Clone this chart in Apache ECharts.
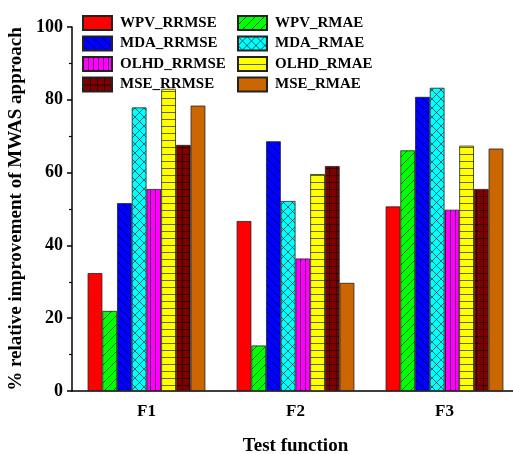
<!DOCTYPE html>
<html><head><meta charset="utf-8">
<script src="https://cdn.jsdelivr.net/npm/echarts@6/dist/echarts.min.js"></script>
<style>html,body{margin:0;padding:0;background:#fff}#c{width:513px;height:454px}</style>
</head><body><div id="c"></div>
<script>
const categories = ['F1', 'F2', 'F3'];
const seriesNames = ['WPV_RRMSE','WPV_RMAE','MDA_RRMSE','MDA_RMAE','OLHD_RRMSE','OLHD_RMAE','MSE_RRMSE','MSE_RMAE'];
const WPV_RRMSE = [32.4, 46.7, 50.7];
const WPV_RMAE = [22.0, 12.5, 66.1];
const MDA_RRMSE = [51.6, 68.6, 80.8];
const MDA_RMAE = [77.9, 52.2, 83.3];
const OLHD_RRMSE = [55.5, 36.4, 49.8];
const OLHD_RMAE = [83.0, 59.6, 67.4];
const MSE_RRMSE = [67.6, 61.8, 55.5];
const MSE_RMAE = [78.4, 29.7, 66.6];
const seriesValues = [WPV_RRMSE, WPV_RMAE, MDA_RRMSE, MDA_RMAE, OLHD_RRMSE, OLHD_RMAE, MSE_RRMSE, MSE_RMAE];
const yTicks = [0, 20, 40, 60, 80, 100];

function pat(bg, kind) {
  const sizes = { diag: 9, anti: 9, cross: 9, vert: 5, horiz: 7, grid: 7 };
  const s = sizes[kind];
  const c = document.createElement('canvas');
  c.width = s; c.height = s;
  const g = c.getContext('2d');
  g.fillStyle = bg; g.fillRect(0, 0, s, s);
  g.strokeStyle = 'rgba(0,0,0,0.7)'; g.lineWidth = 0.85;
  const ln = (a, b, cc, d) => { g.beginPath(); g.moveTo(a, b); g.lineTo(cc, d); g.stroke(); };
  if (kind === 'diag' || kind === 'cross') { ln(-1, s + 1, s + 1, -1); ln(-1, 1, 1, -1); ln(s - 1, s + 1, s + 1, s - 1); }
  if (kind === 'anti' || kind === 'cross') { ln(-1, -1, s + 1, s + 1); ln(s - 1, -1, s + 1, 1); ln(-1, s - 1, 1, s + 1); }
  if (kind === 'vert' || kind === 'grid') { ln(0.5, 0, 0.5, s); }
  if (kind === 'horiz' || kind === 'grid') { ln(0, 0.5, s, 0.5); }
  return { image: c, repeat: 'repeat' };
}
const fills = [
  '#FF0000',
  pat('#00FF00', 'diag'),
  pat('#0000FF', 'anti'),
  pat('#00FFFF', 'cross'),
  pat('#FF00FF', 'vert'),
  pat('#FFFF00', 'horiz'),
  pat('#800000', 'grid'),
  '#CC6600'
];

const font = '"Liberation Serif", "Times New Roman", serif';
const chart = echarts.init(document.getElementById('c'), null, { renderer: 'canvas' });
const legendCommon = {
  orient: 'vertical', top: 15, itemWidth: 29, itemHeight: 14, itemGap: 4.5, icon: 'rect',
  textStyle: { fontFamily: font, fontWeight: 'bold', fontSize: 15, color: '#000', padding: [0, 0, 0, 3] },
  padding: 0
};
chart.setOption({
  animation: false,
  backgroundColor: '#fff',
  grid: { left: 72, right: -6, top: 27, bottom: 63, containLabel: false, outerBoundsMode: 'none' },
  legend: [
    Object.assign({ left: 82, data: seriesNames.filter((n, i) => i % 2 === 0) }, legendCommon),
    Object.assign({ left: 237, data: seriesNames.filter((n, i) => i % 2 === 1) }, legendCommon)
  ],
  xAxis: [{
    type: 'category', data: categories, position: 'bottom',
    name: 'Test function', nameLocation: 'middle', nameGap: 46,
    nameTextStyle: { fontFamily: font, fontWeight: 'bold', fontSize: 19, color: '#000' },
    axisLine: { lineStyle: { color: '#000', width: 1.5 } },
    axisTick: { alignWithLabel: true, length: 6, lineStyle: { color: '#000', width: 1.5 } },
    axisLabel: { fontFamily: font, fontWeight: 'bold', fontSize: 17, color: '#000', margin: 12 },
    splitLine: { show: false }
  }, {
    type: 'category', data: categories, position: 'bottom', offset: 0,
    axisLine: { show: false },
    axisTick: { inside: true, length: 3, lineStyle: { color: '#000', width: 1.2 } },
    axisLabel: { show: false }, splitLine: { show: false }
  }],
  yAxis: {
    type: 'value', min: yTicks[0], max: yTicks[yTicks.length - 1], interval: 20,
    name: '% relative improvement of MWAS approach', nameLocation: 'middle', nameGap: 45,
    nameTextStyle: { fontFamily: font, fontWeight: 'bold', fontSize: 19, color: '#000' },
    axisLine: { show: true, lineStyle: { color: '#000', width: 1.5 } },
    axisTick: { show: true, length: 5, lineStyle: { color: '#000', width: 1.5 } },
    minorTick: { show: true, splitNumber: 2, length: 3, lineStyle: { color: '#000', width: 1.2 } },
    axisLabel: { fontFamily: font, fontWeight: 'bold', fontSize: 18, color: '#000', margin: 9 },
    splitLine: { show: false }
  },
  series: seriesNames.map((n, i) => ({
    name: n, type: 'bar', data: seriesValues[i], xAxisIndex: 0,
    barGap: '0%', barCategoryGap: '21%',
    itemStyle: { color: fills[i], borderColor: '#222', borderWidth: 0.8 }
  }))
});
</script></body></html>
